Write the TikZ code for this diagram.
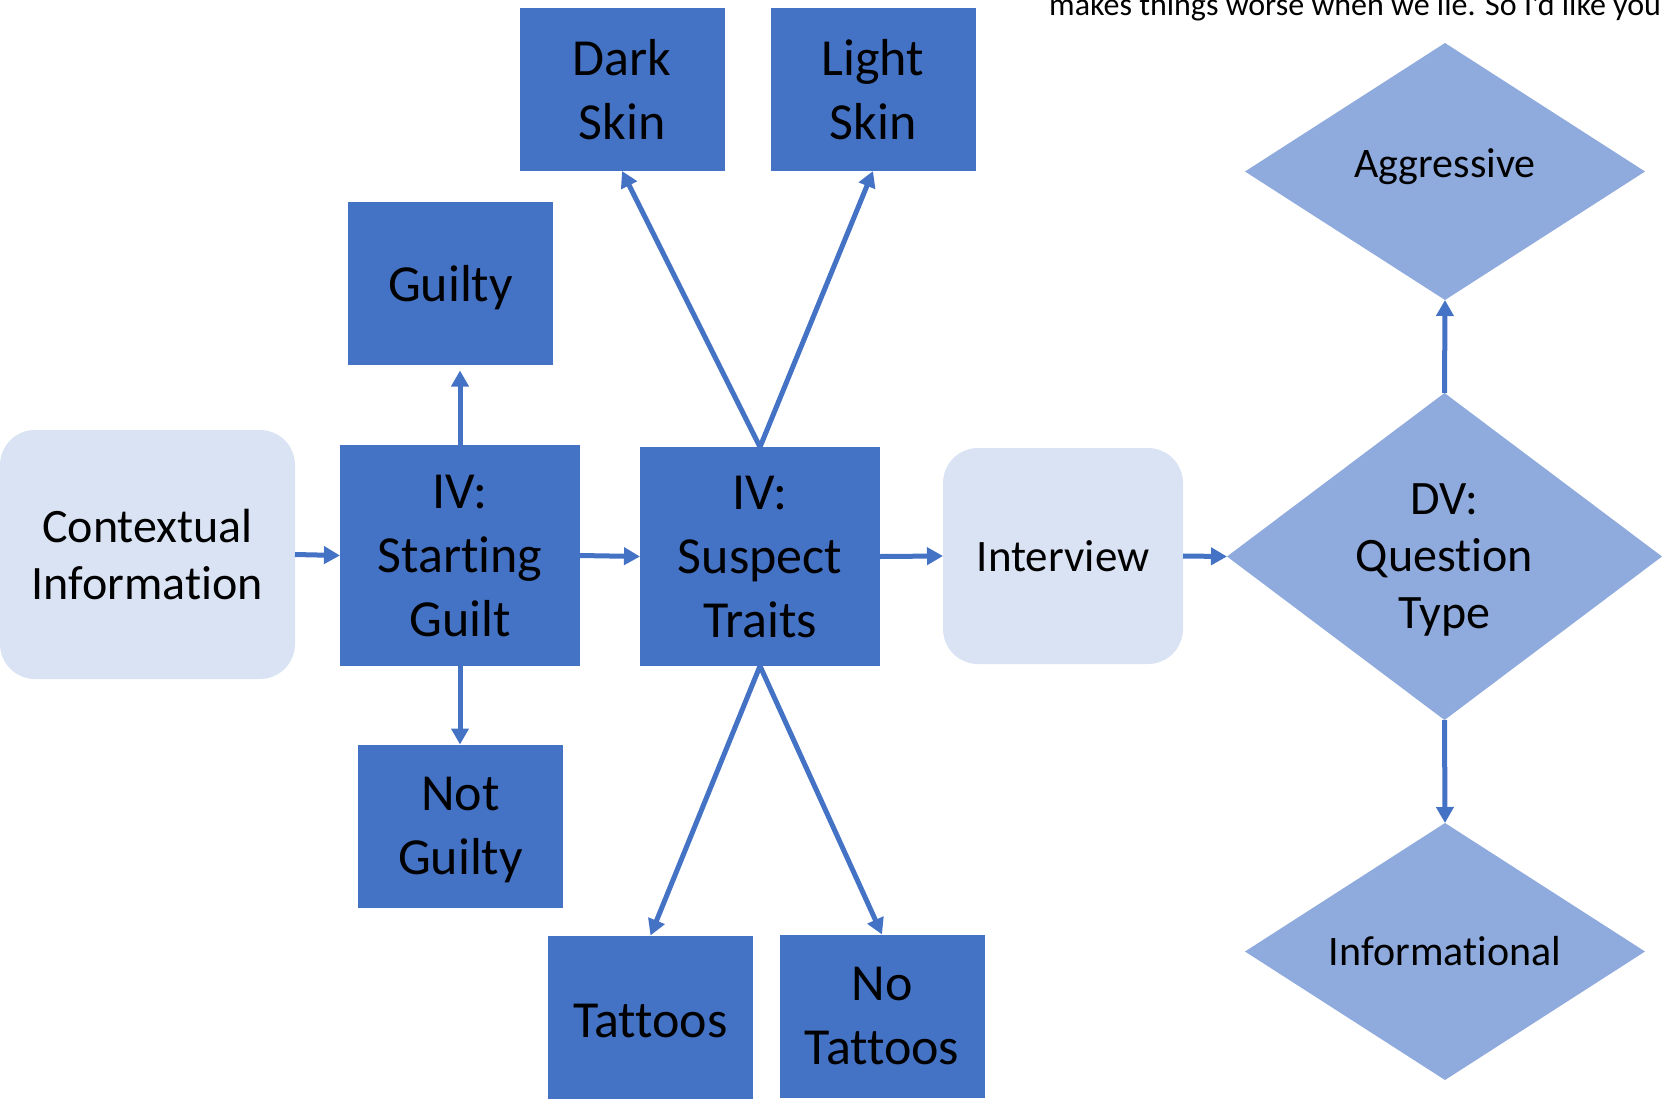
\documentclass[tikz,border=0pt]{standalone}
\usepackage{fontspec}
\setmainfont{Carlito}[Ligatures={NoCommon}]
\usetikzlibrary{shapes.geometric,arrows.meta}
\definecolor{boxblue}{HTML}{4472C4}
\definecolor{paleblue}{HTML}{DAE3F3}
\definecolor{midblue}{HTML}{8FAADC}

\begin{document}
\begin{tikzpicture}[x=1pt,y=-1pt,
  solid box/.style={fill=boxblue, draw=none, minimum width=205pt, minimum height=163pt,
    inner sep=0pt, outer sep=0pt, align=center, text depth=0pt,
    font=\fontsize{52}{64}\selectfont},
  big box/.style={solid box, minimum width=240pt, minimum height=220pt},
  soft box/.style={fill=paleblue, rounded corners=35pt, minimum width=240pt, minimum height=216pt,
    inner sep=0pt, outer sep=0pt, align=center, font=\fontsize{45}{57}\selectfont},
  choice/.style={diamond, fill=midblue, shape aspect=1.55, inner sep=0pt, outer sep=0pt,
    minimum width=400pt, minimum height=257pt, align=center, font=\fontsize{42}{52}\selectfont},
  link/.style={draw=boxblue, line width=5pt, -{Triangle[length=16pt,width=17pt]}}
]
\useasboundingbox (0,0) rectangle (1664,1103);

% running text at the top edge
\node[anchor=base west, inner sep=0pt, font=\fontsize{32}{38}\selectfont] (caption) at (1049,15)
  {makes things worse when we lie. So I'd like you};

% main chain
\node[soft box, minimum width=295pt, minimum height=249pt, font=\fontsize{48}{57}\selectfont]
  (ctx) at (147.5,554.5) {Contextual\\Information};
\node[big box, minimum height=221pt] (sg) at (460,555.5) {IV:\\Starting\\Guilt};
\node[big box, minimum height=219pt] (st) at (760,556.5) {IV:\\Suspect\\Traits};
\node[soft box] (iv) at (1063,556) {Interview};
\node[choice, shape aspect=1.32, minimum width=435pt, minimum height=327pt, text depth=0pt,
      font=\fontsize{48}{57}\selectfont] (dv) at (1444.5,556.5) {DV:\\Question\\Type};

% levels of the first IV
\node[solid box] (guilty) at (450.5,283) {Guilty};
\node[solid box] (ng) at (460.5,826) {Not\\Guilty};

% levels of the second IV
\node[solid box] (dark) at (622,89.5) {Dark\\Skin};
\node[solid box] (light) at (873,89.5) {Light\\Skin};
\node[solid box, text height=41pt] (tat) at (650.5,1017) {Tattoos};
\node[solid box] (notat) at (882,1016) {No\\Tattoos};

% levels of the DV
\node[choice, text depth=16pt] (agg) at (1445,171.5) {Aggressive};
\node[choice] (info) at (1445,951.5) {Informational};

% connectors
\draw[link] (ctx.east) -- (sg.west);
\draw[link] (sg.east) -- (st.west);
\draw[link] (st.east) -- (iv.west);
\draw[link] (iv.east) -- (dv.west);
\draw[link, shorten >=6pt] (sg.north) -- (sg.north |- guilty.south);
\draw[link] (sg.south) -- (sg.south |- ng.north);
\draw[link] (st.north) -- (dark.south);
\draw[link] (st.north) -- (light.south);
\draw[link] (st.south) -- (tat.north);
\draw[link] (st.south) -- (notat.north);
\draw[link] (dv.north) -- (agg.south);
\draw[link] (dv.south) -- (info.north);
\end{tikzpicture}
\end{document}
